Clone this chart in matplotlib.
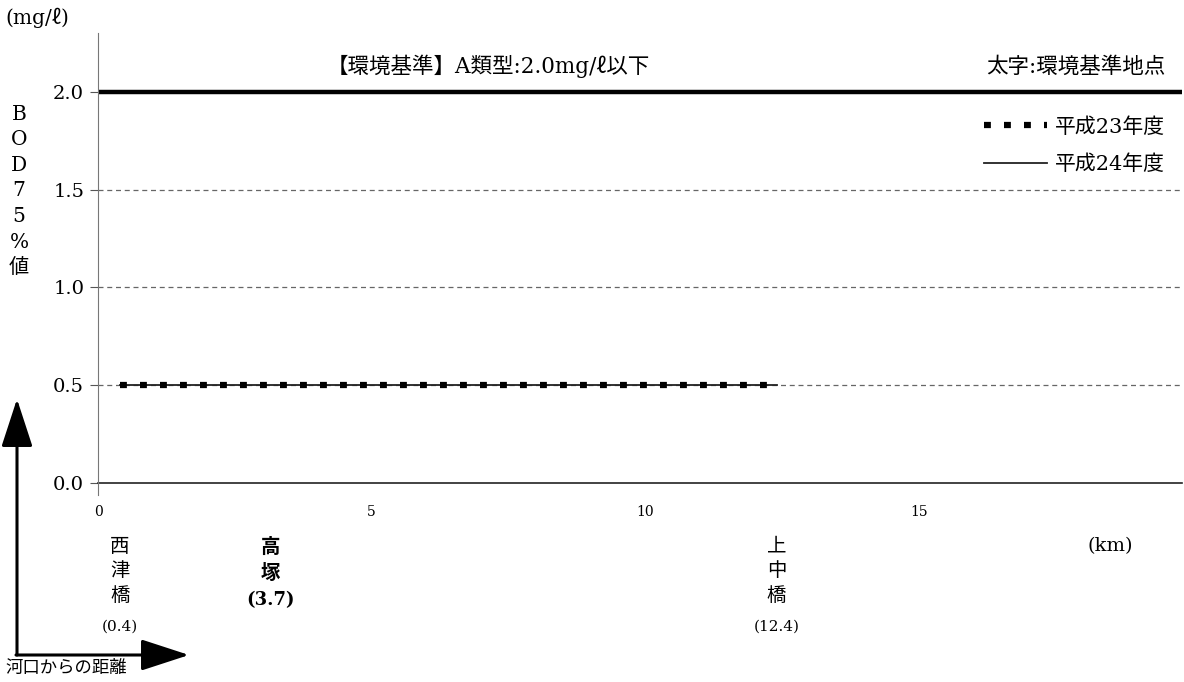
import numpy as np
import matplotlib.pyplot as plt
from matplotlib.patches import FancyArrowPatch

plt.rcParams['font.family'] = ['DejaVu Serif', 'Noto Sans CJK JP']

# station distances from river mouth (km) and BOD 75% values (mg/l)
stations = ['西\n津\n橋', '上\n中\n橋']
station_km = [0.4, 12.4]
bod_h23 = [0.5, 0.5]
bod_h24 = [0.5, 0.5]

std_station = '高\n塚'
std_km = 3.7

standard = 2.0
yticks = [0.0, 0.5, 1.0, 1.5, 2.0]
xticks = [0, 5, 10, 15]

fig = plt.figure(figsize=(11.84, 6.82), dpi=100)
ax = fig.add_axes([0.0828, 0.2918, 0.9152, 0.6598])
ax.set_xlim(0, 19.8)
ax.set_ylim(0, 2.3)

for y in yticks[1:-1]:
    ax.axhline(y, color='#666666', lw=0.9, ls=(0, (4, 3)), zorder=1)
ax.axhline(standard, color='black', lw=3.2, zorder=2)
ax.axhline(0, color='#222222', lw=1.2, zorder=2, clip_on=False)

ax.plot(station_km, bod_h24, color='#222222', lw=1.3, label='平成24年度', zorder=3)
ax.plot(station_km, bod_h23, color='black', lw=4.5, ls=(0, (1.1, 2.1)),
        label='平成23年度', zorder=4)

for s in ['top', 'right', 'bottom']:
    ax.spines[s].set_visible(False)
ax.spines['left'].set_color('#777777')
ax.spines['left'].set_bounds(-0.06, 2.3)

ax.set_yticks(yticks)
ax.set_yticklabels([f'{v:.1f}' for v in yticks], fontsize=14)
ax.tick_params(axis='y', length=6, width=0.8, color='#555555', pad=4)
ax.set_xticks(xticks)
ax.set_xticklabels([str(v) for v in xticks], fontsize=10)
ax.tick_params(axis='x', length=0, pad=16)

handles, labels = ax.get_legend_handles_labels()
ax.legend(handles[::-1], labels[::-1], loc='upper right', bbox_to_anchor=(1.002, 0.855),
          frameon=False, fontsize=15, handlelength=3.0, labelspacing=0.85,
          handletextpad=0.4)

ax.text(0.36, 0.925, '【環境基準】A類型:2.0mg/ℓ以下', transform=ax.transAxes,
        ha='center', va='center', fontsize=15.5)
ax.text(0.985, 0.925, '太字:環境基準地点', transform=ax.transAxes,
        ha='right', va='center', fontsize=15.5)

fig.text(5 / 1184, 1 - 18 / 682, '(mg/ℓ)', fontsize=14.5, va='center', ha='left')
fig.text(19 / 1184, 1 - 191 / 682, 'B\nO\nD\n7\n5\n%\n値', fontsize=14.5,
         ha='center', va='center', linespacing=1.44)

# station labels below the axis
for name, km in zip(stations, station_km):
    ax.text(km, -0.28, name, ha='center', va='top', fontsize=14, linespacing=1.47,
            clip_on=False)
    ax.text(km, -0.70, f'({km})', ha='center', va='top', fontsize=11, clip_on=False)
ax.text(std_km - 0.55, -0.28, std_station, ha='center', va='top', fontsize=14,
        linespacing=1.47, fontweight='bold', clip_on=False)
ax.text(std_km - 0.55, -0.55, f'({std_km})', ha='center', va='top', fontsize=13,
        fontweight='bold', clip_on=False)
ax.text(18.5, -0.32, '(km)', ha='center', va='center', fontsize=14, clip_on=False)

# direction arrows
arrow_style = '-|>,head_length=2.3,head_width=0.75'
fig.patches.append(FancyArrowPatch(
    (17 / 1184, 1 - 655 / 682), (17 / 1184, 1 - 399 / 682), transform=fig.transFigure,
    arrowstyle=arrow_style, mutation_scale=13, lw=2.2, color='black',
    shrinkA=0, shrinkB=0))
fig.patches.append(FancyArrowPatch(
    (16 / 1184, 1 - 655 / 682), (189 / 1184, 1 - 655 / 682), transform=fig.transFigure,
    arrowstyle=arrow_style, mutation_scale=13, lw=2.2, color='black',
    shrinkA=0, shrinkB=0))
fig.text(5 / 1184, 1 - 669 / 682, '河口からの距離', fontsize=12.5, ha='left', va='center')

fig.savefig('out.png', dpi=100)
